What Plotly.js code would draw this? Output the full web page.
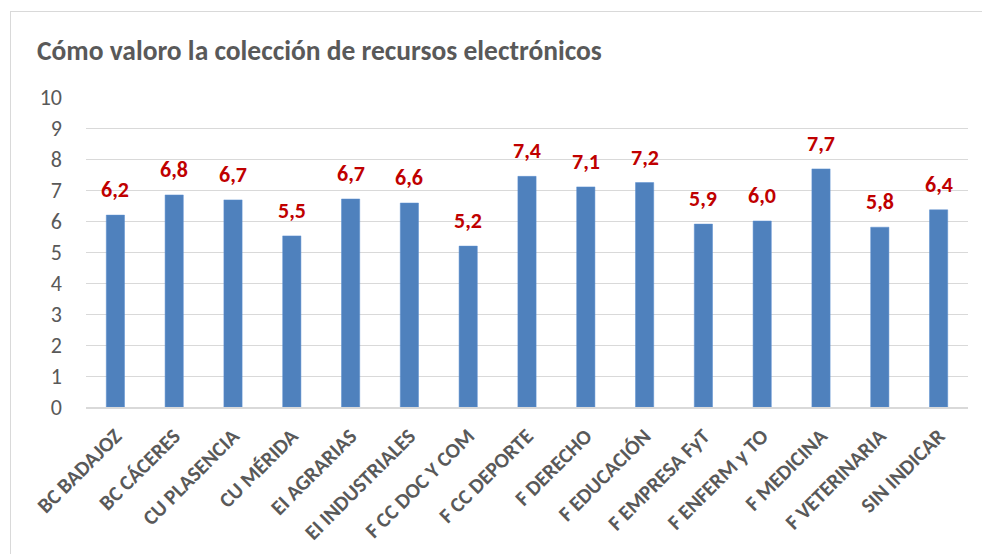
<!DOCTYPE html>
<html>
<head>
<meta charset="utf-8">
<script src="https://cdn.plot.ly/plotly-3.0.1.min.js"></script>
<style>
  html, body { margin: 0; padding: 0; background: #ffffff; }
  #wrap { position: relative; width: 982px; height: 554px; overflow: hidden; }
  #frame { position: absolute; left: 10px; top: 11px; width: 990px; height: 600px; border: 1px solid #d9d9d9; box-sizing: border-box; pointer-events: none; }
  #chart { position: absolute; left: 0; top: 0; width: 982px; height: 554px; }
</style>
</head>
<body>
<div id="wrap">
  <div id="chart"></div>
  <div id="frame"></div>
</div>
<script>
const categories = ["BC BADAJOZ", "BC CÁCERES", "CU PLASENCIA", "CU MÉRIDA", "EI AGRARIAS", "EI INDUSTRIALES", "F CC DOC Y COM", "F CC DEPORTE", "F DERECHO", "F EDUCACIÓN", "F EMPRESA FyT", "F ENFERM y TO", "F MEDICINA", "F VETERINARIA", "SIN INDICAR"];
const values = [6.19, 6.84, 6.68, 5.52, 6.71, 6.58, 5.19, 7.44, 7.10, 7.24, 5.90, 6.00, 7.68, 5.80, 6.36];
const yTicks = [0, 1, 2, 3, 4, 5, 6, 7, 8, 9, 10];
const titleText = "Cómo valoro la colección de recursos electrónicos";

const FONT = "Carlito, Lato, 'Open Sans', sans-serif";
const fmt = v => v.toFixed(1).replace(".", ",");

const trace = {
  type: "bar",
  x: categories,
  y: values,
  marker: { color: "#4f81bd", line: { color: "#5b8fd0", width: 0.5 } },
  hoverinfo: "x+y"
};

const annotations = categories.map((c, i) => ({
  x: c, y: values[i], xref: "x", yref: "y",
  text: "<b>" + fmt(values[i]) + "</b>",
  showarrow: false, yanchor: "bottom", yshift: 10,
  font: { family: FONT, size: 22, color: "#c00000" }
}));

const layout = {
  width: 982, height: 554,
  margin: { l: 86, r: 14, t: 97, b: 147 },
  paper_bgcolor: "#ffffff", plot_bgcolor: "#ffffff",
  bargap: 0.69,
  showlegend: false,
  title: {
    text: "<b>" + titleText + "</b>",
    x: 37 / 982, xanchor: "left", xref: "container",
    y: 1 - 50 / 554, yanchor: "middle", yref: "container",
    font: { family: FONT, size: 27.5, color: "#595959" }
  },
  xaxis: {
    type: "category",
    tickangle: -45,
    tickfont: { family: FONT, size: 21, color: "#595959", weight: "bold" },
    showline: true, linecolor: "#d9d9d9", linewidth: 1.5,
    ticks: "", showgrid: false, zeroline: false,
    ticklabelstandoff: 7
  },
  yaxis: {
    range: [0, 10],
    tickvals: yTicks,
    ticktext: yTicks.map(String),
    tickfont: { family: FONT, size: 22, color: "#595959" },
    gridcolor: "#d9d9d9", gridwidth: 1,
    zeroline: false, showline: false, ticks: "",
    ticklabelstandoff: 23
  },
  annotations: annotations
};

Plotly.newPlot("chart", [trace], layout, { displayModeBar: false, staticPlot: true });
</script>
</body>
</html>
